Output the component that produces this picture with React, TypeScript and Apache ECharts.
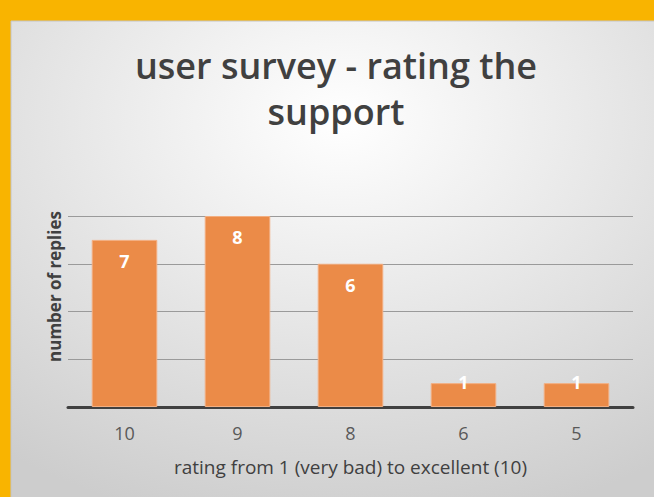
import React, { useEffect, useRef } from "react";
import * as echarts from "echarts";

const categories = ["10", "9", "8", "6", "5"];
const replies = [7, 8, 6, 1, 1];
const titleText = "user survey - rating the\nsupport";
const xName = "rating from 1 (very bad) to excellent (10)";
const yName = "number of replies";

export default function App() {
  const ref = useRef<HTMLDivElement>(null);
  useEffect(() => {
    document.body.style.margin = "0";
    const chart = echarts.init(ref.current!, null, { renderer: "svg" });
    chart.setOption({
      animation: false,
      backgroundColor: "#F9B400",
      graphic: [
        {
          type: "rect",
          z: -10,
          shape: { x: 11, y: 21, width: 660, height: 490 },
          style: {
            fill: {
              type: "radial",
              x: 0.5,
              y: 0.2,
              r: 0.85,
              colorStops: [
                { offset: 0, color: "#ffffff" },
                { offset: 1, color: "#cdcdcd" },
              ],
            },
            stroke: "#c4c4c4",
            lineWidth: 1,
          },
        },
      ],
      title: {
        text: titleText,
        left: 331,
        top: 37,
        textAlign: "center",
        textStyle: {
          fontFamily: "Open Sans",
          fontSize: 36,
          fontWeight: 600,
          color: "#404040",
          lineHeight: 46,
        },
      },
      grid: { left: 68, right: 21, top: 216, bottom: 90 },
      xAxis: {
        type: "category",
        data: categories,
        name: xName,
        nameLocation: "middle",
        nameGap: 50,
        nameTextStyle: { fontFamily: "Open Sans", fontSize: 19, color: "#404040" },
        axisLine: { lineStyle: { color: "#404040", width: 3 } },
        axisTick: { show: false },
        axisLabel: { fontFamily: "Open Sans", fontSize: 18, color: "#595959", margin: 17 },
      },
      yAxis: {
        type: "value",
        min: 0,
        max: 8,
        interval: 2,
        name: yName,
        nameLocation: "middle",
        nameGap: 5,
        nameTextStyle: {
          fontFamily: "Open Sans",
          fontSize: 17,
          fontWeight: "bold",
          color: "#404040",
          padding: [0, 0, 0, 50],
        },
        axisLabel: { show: false },
        axisLine: { show: false },
        axisTick: { show: false },
        splitLine: { lineStyle: { color: "#9a9a9a", width: 1 } },
      },
      series: [
        {
          type: "bar",
          barWidth: "58%",
          data: replies.map((v) => ({
            value: v,
            label: v <= 1 ? { position: "insideTop", distance: -10 } : undefined,
          })),
          itemStyle: { color: "#EB8B48", borderColor: "#F3AE80", borderWidth: 1 },
          label: {
            show: true,
            position: "insideTop",
            distance: 12,
            fontFamily: "Open Sans",
            fontSize: 18,
            fontWeight: "bold",
            color: "#ffffff",
          },
        },
      ],
    });
    return () => chart.dispose();
  }, []);
  return <div ref={ref} style={{ width: 654, height: 497 }} />;
}
